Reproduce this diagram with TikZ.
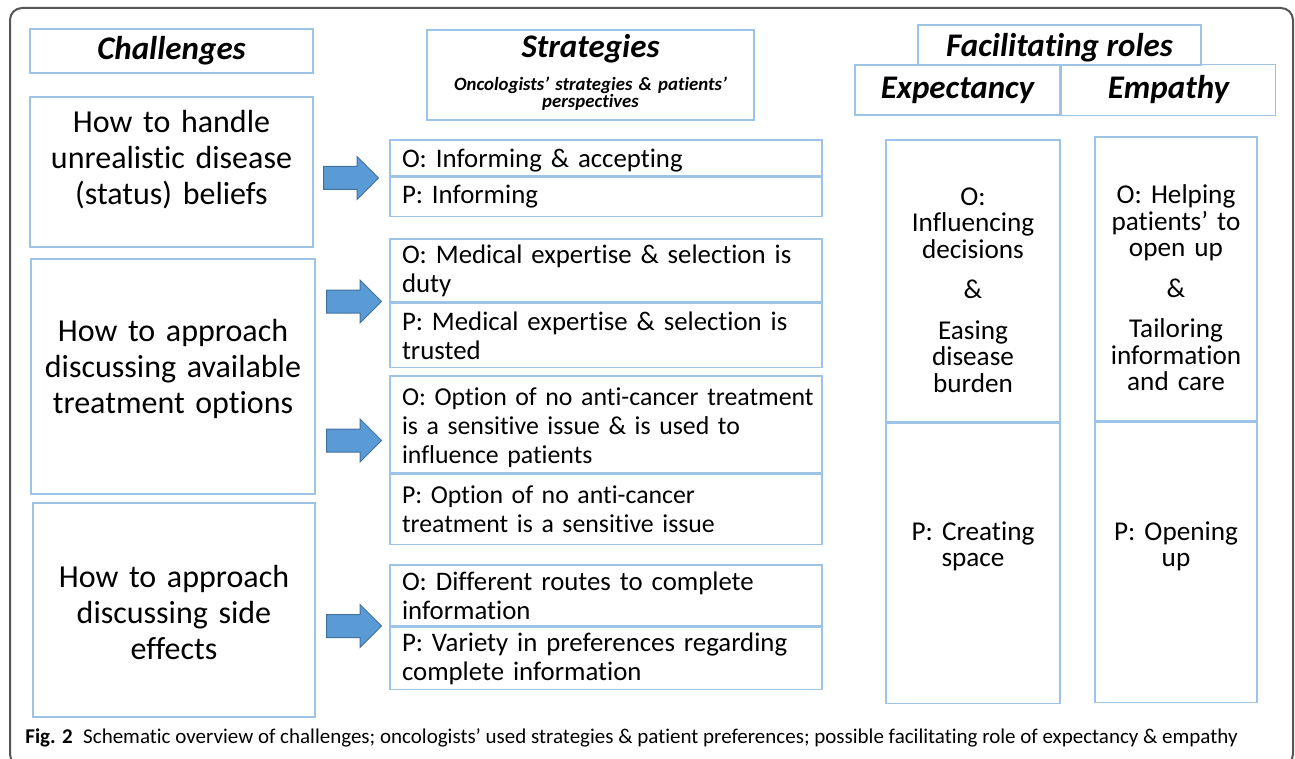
\documentclass[tikz,border=0pt]{standalone}
\usepackage{fontspec}
\setmainfont{Carlito}[Ligatures=NoCommon]
\usetikzlibrary{positioning,shapes.arrows}

\definecolor{boxblue}{RGB}{157,195,230}
\definecolor{arrowfill}{RGB}{91,155,213}
\definecolor{arrowline}{RGB}{65,113,156}
\definecolor{framegray}{RGB}{85,85,85}

\newcommand{\hdfont}{\fontsize{16.5}{18}\selectfont\bfseries\itshape}
\newcommand{\subfont}{\fontsize{9.4}{8.5}\selectfont\bfseries\itshape}
\newcommand{\chfont}{\fontsize{16}{18}\selectfont}
\newcommand{\stfont}{\fontsize{13.4}{14.5}\selectfont}
\newcommand{\stnarrow}{\fontsize{12.9}{14.5}\selectfont}
\newcommand{\rlfont}{\fontsize{13.6}{13.25}\selectfont}
\newcommand{\liftkern}[1]{\endgraf\kern#1\relax}

\begin{document}
\begin{tikzpicture}[
  x=0.5pt, y=-0.5pt,
  node distance=0pt,
  box/.style={rectangle, draw=boxblue, line width=0.75pt, inner sep=0pt, align=center},
  header/.style={box, font=\hdfont},
  challenge/.style={box, font=\chfont, text width=140pt},
  part/.style={box, font=\stfont, align=left, text width=204pt, minimum width=216pt, inner xsep=6pt},
  role/.style={box, font=\rlfont, text width=75pt},
  blockarrow/.style={single arrow, anchor=tail, draw=arrowline, fill=arrowfill, line width=0.5pt, minimum height=27.5pt, single arrow head extend=5pt, inner xsep=0pt, inner ysep=5.5pt},
  lift/.style={execute at end node={\liftkern{#1}}}
]
\useasboundingbox (0,0) rectangle (1295,759);

% outer frame
\draw[framegray, line width=1pt, rounded corners=6pt] (10,8) rectangle (1293,766);

% Challenges
\node[header, minimum width=141.5pt, minimum height=22pt] (chal) at (171.5,51) {Challenges};
\node[challenge, minimum width=141.5pt, minimum height=75pt, lift=12pt] (c1) at (171.5,172) {How to handle\\unrealistic disease\\(status) beliefs};
\node[challenge, minimum width=142pt, minimum height=117.5pt, lift=8pt] (c2) at (173,376.5) {How to approach\\discussing available\\treatment options};
\node[challenge, minimum width=141pt, minimum height=107pt, lift=-3pt] (c3) at (174,610) {How to approach\\discussing side\\effects};

% Strategies
\node[box, font=\subfont, minimum width=163.5pt, minimum height=45pt, text width=160pt, lift=2.5pt] (strat) at (590.5,75) {{\hdfont Strategies}\\[6pt]Oncologists’ strategies \& patients’\\perspectives};

\node[part, minimum height=18pt, lift=-3pt] (s1o) at (606,158) {O: Informing \& accepting};
\node[part, minimum height=19.5pt, below=of s1o] (s1p) {P: Informing};

\node[part, minimum height=31.5pt] (s2o) at (606,270.5) {O: Medical expertise \& selection is\\duty};
\node[part, minimum height=32pt, below=of s2o] (s2p) {P: Medical expertise \& selection is\\trusted};

\node[part, font=\stnarrow, minimum height=48.5pt, lift=-3pt] (s3o) at (606,424.5) {\mbox{O: Option of no anti-cancer treatment}\\is a sensitive issue \& is used to\\influence patients};
\node[part, font=\stnarrow, minimum height=35pt, below=of s3o] (s3p) {P: Option of no anti-cancer\\treatment is a sensitive issue};

\node[part, minimum height=30.5pt] (s4o) at (606,595.5) {O: Different routes to complete\\information};
\node[part, minimum height=31pt, below=of s4o] (s4p) {P: Variety in preferences regarding\\complete information};

% block arrows
\node[blockarrow] (a1) at (323,178) {};
\node[blockarrow] (a2) at (326,301.5) {};
\node[blockarrow] (a3) at (326,440.5) {};
\node[blockarrow] (a4) at (326,626) {};

% Facilitating roles
\node[header, minimum width=141.5pt, minimum height=20pt, text depth=0pt] (facil) at (1059.5,45) {Facilitating roles};
\node[header, minimum width=102.5pt, minimum height=25pt] (expect) at (957.5,90) {Expectancy};
\node[header, minimum width=107pt, minimum height=25.5pt, right=of expect] (empath) {Empathy};

\node[role, minimum width=87pt, minimum height=141pt, lift=-9pt] (eo) at (973,281) {O:\\Influencing\\decisions\\[7pt]\&\\[7pt]Easing\\disease\\burden};
\node[role, minimum width=87pt, minimum height=140pt, below=of eo, lift=17pt] (ep) {P: Creating\\space};
\node[role, minimum width=81pt, minimum height=142pt, lift=-9pt] (mo) at (1176,279) {O: Helping\\patients’ to\\open up\\[7pt]\&\\[7pt]Tailoring\\information\\and care};
\node[role, minimum width=81pt, minimum height=140pt, below=of mo, lift=16pt] (mp) {P: Opening\\up};

% caption
\node[anchor=west, inner sep=0pt, font=\fontsize{10.5}{12}\selectfont] (cap) at (25,738) {\textbf{Fig. 2}\enspace Schematic overview of challenges; oncologists’ used strategies \& patient preferences; possible facilitating role of expectancy \& empathy};

\end{tikzpicture}
\end{document}
